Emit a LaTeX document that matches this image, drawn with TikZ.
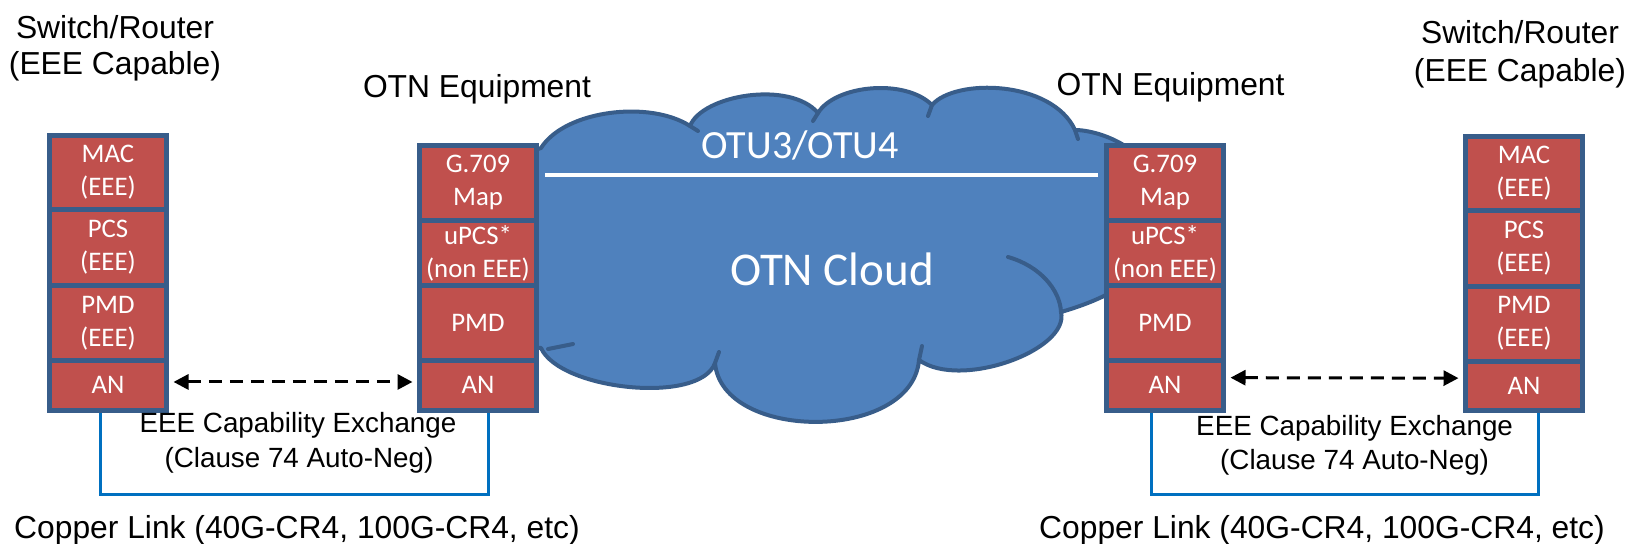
\documentclass[tikz,border=0pt]{standalone}
\usepackage{fontspec}
\setmainfont{Liberation Sans}
\newfontfamily\boxfont{Carlito}
\usetikzlibrary{arrows.meta}
\definecolor{stackred}{HTML}{C0504D}
\definecolor{edgeblue}{HTML}{385D8A}
\definecolor{cloudfill}{HTML}{4F81BD}
\definecolor{copperblue}{HTML}{0070C0}
\begin{document}
\begin{tikzpicture}[x=0.5pt,y=0.5pt,
  layer/.style={draw=edgeblue,line width=2.5pt,fill=stackred,text=white,
    font={\boxfont\fontsize{13.4pt}{16.5pt}\selectfont},align=center,
    inner sep=0pt,outer sep=0pt,anchor=north west,minimum width=58.5pt},
  anchorbox/.style={inner sep=0pt,outer sep=0pt,anchor=north west,
    minimum width=58.5pt,minimum height=24.75pt},
  biglabel/.style={font={\fontsize{15.9pt}{18.5pt}\selectfont},anchor=base,inner sep=0pt},
  smalllabel/.style={font={\fontsize{13.9pt}{17pt}\selectfont},anchor=base,inner sep=0pt},
  cloudline/.style={draw=edgeblue,line width=2pt,line join=round,line cap=round},
  copper/.style={draw=copperblue,line width=1.5pt},
  exchange/.style={line width=1.5pt,dash pattern=on 6.5pt off 4pt,
    {Triangle[length=7.5pt,width=7.5pt]}-{Triangle[length=7.5pt,width=7.5pt]},
    shorten <=3.5pt,shorten >=3.5pt}]
\useasboundingbox (0,0) rectangle (1629,-543);

% copper cable corners
\coordinate (cpL1) at (100.7,-494);
\coordinate (cpL2) at (488,-494);
\coordinate (cpR1) at (1151,-494);
\coordinate (cpR2) at (1538,-494);

% OTN cloud outline
\path[fill=cloudfill,cloudline] (541,-148)
  .. controls (565,-110) and (650,-100) .. (690,-126)
  .. controls (702,-95) and (790,-80) .. (818,-113)
  .. controls (835,-85) and (905,-78) .. (932,-105)
  .. controls (955,-78) and (1052,-80) .. (1075,-130)
  .. controls (1100,-130) and (1160,-150) .. (1165,-210)
  .. controls (1168,-265) and (1120,-295) .. (1061,-312)
  .. controls (1070,-350) and (960,-390) .. (919,-360)
  .. controls (912,-442) and (722,-442) .. (715,-363)
  .. controls (700,-405) and (560,-390) .. (541,-348)
  .. controls (500,-345) and (495,-300) .. (520,-280)
  .. controls (490,-240) and (500,-160) .. cycle;
% inner lobe ends
\draw[cloudline] (690,-126) -- (698,-131);
\draw[cloudline] (818,-113) -- (813,-121);
\draw[cloudline] (932,-105) -- (928,-116);
\draw[cloudline] (1075,-130) -- (1078,-139);
\draw[cloudline] (1061,-312) .. controls (1060,-290) and (1040,-266) .. (1008,-257);
\draw[cloudline] (919,-360) -- (922,-346);
\draw[cloudline] (715,-363) -- (719,-352);
\draw[cloudline] (548,-349) -- (573,-344);

% OTU path across the cloud
\coordinate (otuA) at (545,-175);
\coordinate (otuB) at (1098,-175);
\draw[white,line width=2pt] (otuA) -- (otuB);
\node[font={\boxfont\fontsize{20pt}{24pt}\selectfont},text=white,anchor=base,inner sep=0pt] (otu) at (800,-158.3) {OTU3/OTU4};
\node[font={\boxfont\fontsize{23.5pt}{28pt}\selectfont},text=white,anchor=base,inner sep=0pt] (cloud) at (832,-285) {OTN Cloud};

% copper links (drawn under the stacks)
\node[anchorbox] (baseL) at (49.5,-360.5) {};
\node[anchorbox] (baseLo) at (419.5,-360.5) {};
\node[anchorbox] (baseRo) at (1106.5,-360.5) {};
\node[anchorbox] (baseR) at (1465.5,-360.5) {};
\draw[copper] (cpL1 |- baseL.south) -- (cpL1) -- (cpL2) -- (cpL2 |- baseLo.south);
\draw[copper] (cpR1 |- baseRo.south) -- (cpR1) -- (cpR2) -- (cpR2 |- baseR.south);

% left switch/router stack
\node[layer,minimum height=37pt] (lMAC) at (49.5,-135.5) {MAC\\(EEE)};
\node[layer,minimum height=38pt] (lPCS) at (49.5,-209.5) {PCS\\(EEE)};
\node[layer,minimum height=37.5pt] (lPMD) at (49.5,-285.5) {PMD\\(EEE)};
\node[layer,minimum height=24.75pt] (lAN) at (49.5,-360.5) {AN};

% left OTN equipment stack
\node[layer,minimum height=37.5pt] (loMap) at (419.5,-145) {G.709\\Map};
\node[layer,minimum height=32.85pt] (loPCS) at (419.5,-220) {uPCS*\\(non EEE)};
\node[layer,minimum height=37.4pt] (loPMD) at (419.5,-285.7) {PMD};
\node[layer,minimum height=24.75pt] (loAN) at (419.5,-360.5) {AN};

% right OTN equipment stack
\node[layer,minimum height=37.5pt] (roMap) at (1106.5,-145) {G.709\\Map};
\node[layer,minimum height=32.85pt] (roPCS) at (1106.5,-220) {uPCS*\\(non EEE)};
\node[layer,minimum height=37.4pt] (roPMD) at (1106.5,-285.7) {PMD};
\node[layer,minimum height=24.75pt] (roAN) at (1106.5,-360.5) {AN};

% right switch/router stack
\node[layer,minimum height=36.75pt] (rMAC) at (1465.5,-136.5) {MAC\\(EEE)};
\node[layer,minimum height=38pt] (rPCS) at (1465.5,-210) {PCS\\(EEE)};
\node[layer,minimum height=37.5pt] (rPMD) at (1465.5,-286) {PMD\\(EEE)};
\node[layer,minimum height=24.75pt] (rAN) at (1465.5,-361) {AN};

% auto-negotiation exchanges
\draw[exchange] ([yshift=1.65pt]lAN.east) -- ([yshift=1.65pt]loAN.west);
\draw[exchange] ([yshift=3.8pt]roAN.east) -- ([yshift=3.8pt]rAN.west);

% labels
\node[biglabel] (lsw1) at (115,-38) {Switch/Router};
\node[biglabel] (lsw2) at (115,-74.4) {(EEE Capable)};
\node[biglabel] (rsw1) at (1520,-43.4) {Switch/Router};
\node[biglabel] (rsw2) at (1520,-81.6) {(EEE Capable)};
\node[biglabel] (lotn) at (477,-97) {OTN Equipment};
\node[biglabel] (rotn) at (1170.5,-95.5) {OTN Equipment};
\node[smalllabel] (lex1) at (298,-432.7) {EEE Capability Exchange};
\node[smalllabel] (lex2) at (299,-467.5) {(Clause 74 Auto-Neg)};
\node[smalllabel] (rex1) at (1354.6,-435.7) {EEE Capability Exchange};
\node[smalllabel] (rex2) at (1354.6,-469.5) {(Clause 74 Auto-Neg)};
\node[biglabel] (lcu) at (297,-538) {Copper Link (40G-CR4, 100G-CR4, etc)};
\node[biglabel] (rcu) at (1322,-538.5) {Copper Link (40G-CR4, 100G-CR4, etc)};
\end{tikzpicture}
\end{document}
